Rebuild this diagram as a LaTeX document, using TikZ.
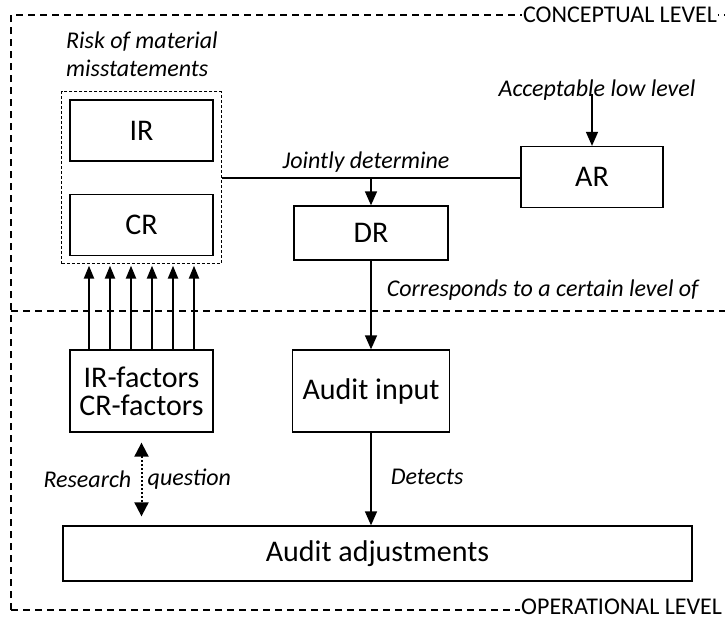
\documentclass[tikz,border=0pt]{standalone}
\usepackage{fontspec}
\setmainfont{Carlito}
\usetikzlibrary{arrows.meta,positioning,calc,fit}
\tikzset{
  riskbox/.style={draw, line width=1.3pt, minimum width=143pt, minimum height=61pt,
                  inner sep=0pt, font=\fontsize{30}{28}\selectfont},
  lbl/.style={font=\itshape\fontsize{24}{28}\selectfont, inner sep=2pt},
  levellbl/.style={font=\fontsize{24}{26}\selectfont, fill=white, inner sep=1pt},
  levelline/.style={line width=1.3pt, dash pattern=on 7pt off 5pt},
  riskarr/.style={-{Triangle[length=14pt, width=12pt]}, line width=1.5pt},
  factarr/.style={-{Triangle[length=13pt, width=10pt]}, line width=2.2pt},
}

\begin{document}
\begin{tikzpicture}[x=1pt, y=-1pt]
  \useasboundingbox (0,0) rectangle (725,621);

  % conceptual / operational frame
  \draw[levelline] (11,610) -- (11,15) -- (725,15);
  \draw[levelline] (11,311) -- (725,311);
  \node[levellbl] (concl) at (620,15) {CONCEPTUAL LEVEL};
  \node[levellbl, anchor=west] (operl) at (520,607) {OPERATIONAL LEVEL};
  \draw[levelline] (11,610) -- (operl.west |- 0,610);

  % risk components
  \node[riskbox] (ir) at (141.5,130.5) {IR};
  \node[riskbox] (cr) at (141.5,225) {CR};
  \node[draw, line width=1pt, dash pattern=on 3pt off 2pt, inner sep=7.5pt, fit=(ir)(cr)] (rmm) {};
  \node[lbl, align=left, anchor=west] (rmmlbl) at (64,54) {Risk of material\\misstatements};

  \node[riskbox, minimum width=142pt] (ar) at (592,177) {AR};
  \node[riskbox, minimum width=154pt, minimum height=54pt] (dr) at (371,233) {DR};
  \node[lbl] (acc) at (597,90) {Acceptable low level};

  % operational boxes
  \node[riskbox, minimum height=82pt, align=center] (factors) at (141.5,391) {IR-factors\\CR-factors};
  \node[riskbox, minimum width=157pt, minimum height=82pt] (input) at (371,391) {Audit input};
  \node[riskbox, minimum width=629pt, minimum height=55pt] (adj) at (377.5,553.5) {Audit adjustments};

  % connectors
  \draw[line width=1.5pt] (rmm.east) -- (rmm.east -| ar.west);
  \draw[riskarr] (dr.north |- rmm.east) -- (dr.north)
    node[lbl, pos=0, above=3pt, xshift=-5pt] {Jointly determine};
  \draw[riskarr] ([yshift=8pt]acc.south -| ar.north) -- (ar.north);
  \draw[riskarr] (dr.south) -- (input.north)
    node[lbl, pos=0.33, right=13pt] {Corresponds to a certain level of};
  \draw[riskarr] (input.south) -- (input.south |- adj.north)
    node[lbl, pos=0.48, right=17pt] {Detects};
  \foreach \dx in {-52.5,-31.5,...,52.5}
    \draw[factarr, shorten >=1.5pt] ([xshift=\dx]factors.north) -- ([xshift=\dx]factors.north |- rmm.south);
  \draw[{Triangle[length=14pt, width=14pt]}-{Triangle[length=14pt, width=14pt]}, line width=2pt, dotted,
        shorten <=10pt, shorten >=9pt] (factors.south) -- (factors.south |- adj.north)
    coordinate[pos=0.5] (rq);
  \node[lbl, left=8pt of rq] (rqleft) {Research};
  \node[lbl, right=4pt of rq] (rqright) {question};
\end{tikzpicture}
\end{document}
